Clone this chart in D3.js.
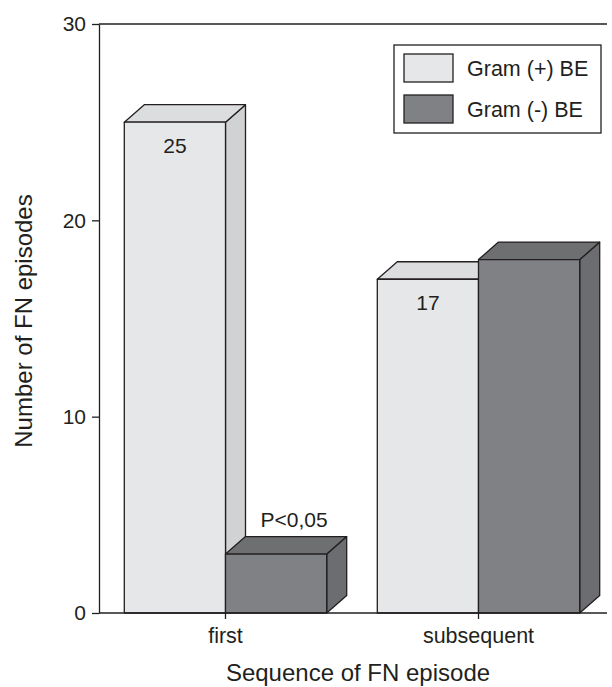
<!DOCTYPE html>
<html>
<head>
<meta charset="utf-8">
<script src="https://cdn.jsdelivr.net/npm/d3@7"></script>
<style>
  body { margin: 0; background: #fff; }
  svg { display: block; font-family: "Liberation Sans", Arial, sans-serif; }
</style>
</head>
<body>
<div id="chart"></div>
<script>
// data
const categories = ["first", "subsequent"];
const series = ["Gram (+) BE", "Gram (-) BE"];
const gramPos = [25, 17];
const gramNeg = [3, 18];
const yTicks = [0, 10, 20, 30];
const valueLabels = [["first", "Gram (+) BE", "25"], ["subsequent", "Gram (+) BE", "17"]];
const noteLabels = [["first", "Gram (-) BE", "P<0,05"]];

const width = 612, height = 687;
const plotLeft = 99, plotRight = 605, plotTop = 24, plotBottom = 613;
const depthX = 20, depthY = 17.5; // oblique depth of the 3D boxes

const colors = {
    "Gram (+) BE": { front: "#e6e7e8", top: "#dcdddf", side: "#d1d2d4" },
    "Gram (-) BE": { front: "#808184", top: "#6e6f71", side: "#6c6d70" }
};
const strokeCol = "#231f20";

const svg = d3.select("#chart").append("svg")
    .attr("width", width)
    .attr("height", height);

const x0 = d3.scaleBand().domain(categories).range([plotLeft, plotRight])
    .paddingInner(0.2).paddingOuter(0.1);
const x1 = d3.scaleBand().domain(series).range([0, x0.bandwidth()]);
const y = d3.scaleLinear().domain([0, 30]).range([plotBottom, plotTop]);

// flatten values into bars
const bars = [];
categories.forEach((c, i) => {
    bars.push({ cat: c, ser: series[0], value: gramPos[i] });
    bars.push({ cat: c, ser: series[1], value: gramNeg[i] });
});

// y axis
const yAxis = svg.append("g")
    .attr("transform", `translate(${plotLeft},0)`)
    .call(d3.axisLeft(y).tickValues(yTicks).tickSize(7).tickSizeOuter(0).tickPadding(6));
yAxis.selectAll("text").style("font-size", "21px").style("fill", "#231f20")
    .attr("font-family", null);
yAxis.selectAll("line, path").style("stroke", strokeCol).style("stroke-width", 1.3);

// top frame line
svg.append("line")
    .attr("x1", plotLeft).attr("x2", 607)
    .attr("y1", y(30)).attr("y2", y(30))
    .style("stroke", strokeCol).style("stroke-width", 1.3);

// bars (drawn left to right so the next bar covers the previous side face)
const g = svg.append("g").attr("class", "bars");
bars.forEach(d => {
    const c = colors[d.ser];
    const x = x0(d.cat) + x1(d.ser);
    const w = x1.bandwidth();
    const yt = y(d.value), yb = y(0);
    const bar = g.append("g");
    // side face
    bar.append("path")
        .attr("d", `M${x + w},${yb} L${x + w + depthX},${yb - depthY} L${x + w + depthX},${yt - depthY} L${x + w},${yt} Z`)
        .style("fill", c.side);
    // top face
    bar.append("path")
        .attr("d", `M${x},${yt} L${x + depthX},${yt - depthY} L${x + w + depthX},${yt - depthY} L${x + w},${yt} Z`)
        .style("fill", c.top);
    // front face
    bar.append("rect")
        .attr("x", x).attr("y", yt)
        .attr("width", w).attr("height", yb - yt)
        .style("fill", c.front);
    bar.selectAll("path, rect")
        .style("stroke", strokeCol)
        .style("stroke-width", 1.3)
        .style("stroke-linejoin", "round");
});

// x baseline + ticks
svg.append("line")
    .attr("x1", plotLeft).attr("x2", 607)
    .attr("y1", plotBottom).attr("y2", plotBottom)
    .style("stroke", strokeCol).style("stroke-width", 1.3);
const xAxis = svg.append("g")
    .attr("transform", `translate(0,${plotBottom})`)
    .call(d3.axisBottom(x0).tickSize(6).tickSizeOuter(0).tickPadding(9));
xAxis.select(".domain").remove();
xAxis.selectAll("text").style("font-size", "21.5px").style("fill", "#231f20")
    .attr("font-family", null);
xAxis.selectAll("line").style("stroke", strokeCol).style("stroke-width", 1.3);

// value labels on the front faces
svg.selectAll(".val")
    .data(valueLabels)
    .enter().append("text")
    .attr("class", "val")
    .attr("x", d => x0(d[0]) + x1(d[1]) + x1.bandwidth() / 2)
    .attr("y", d => y(bars.find(b => b.cat === d[0] && b.ser === d[1]).value) + 31)
    .attr("text-anchor", "middle")
    .style("font-size", "21px")
    .style("fill", "#231f20")
    .text(d => d[2]);

// significance note above the small bar
svg.selectAll(".note")
    .data(noteLabels)
    .enter().append("text")
    .attr("class", "note")
    .attr("x", d => x0(d[0]) + x1(d[1]) + x1.bandwidth() / 2 + depthX - 2)
    .attr("y", d => y(bars.find(b => b.cat === d[0] && b.ser === d[1]).value) - depthY - 10)
    .attr("text-anchor", "middle")
    .style("font-size", "21px")
    .style("fill", "#231f20")
    .text(d => d[2]);

// axis titles
svg.append("text")
    .attr("x", 358).attr("y", 681)
    .attr("text-anchor", "middle")
    .style("font-size", "24px")
    .style("fill", "#231f20")
    .text("Sequence of FN episode");

svg.append("text")
    .attr("transform", "translate(32,321) rotate(-90)")
    .attr("text-anchor", "middle")
    .style("font-size", "24px")
    .style("fill", "#231f20")
    .text("Number of FN episodes");

// legend
const legend = svg.append("g").attr("transform", "translate(394,45)");
legend.append("rect")
    .attr("width", 207).attr("height", 88)
    .style("fill", "#fff")
    .style("stroke", strokeCol).style("stroke-width", 1.3);
const items = legend.selectAll(".legendItem")
    .data(series)
    .enter().append("g")
    .attr("class", "legendItem")
    .attr("transform", (d, i) => `translate(10, ${9 + i * 41})`);
items.append("rect")
    .attr("width", 49).attr("height", 28)
    .style("fill", d => colors[d].front)
    .style("stroke", strokeCol).style("stroke-width", 1.3);
items.append("text")
    .attr("x", 63).attr("y", 22)
    .style("font-size", "21.5px")
    .style("fill", "#231f20")
    .text(d => d);
</script>
</body>
</html>
